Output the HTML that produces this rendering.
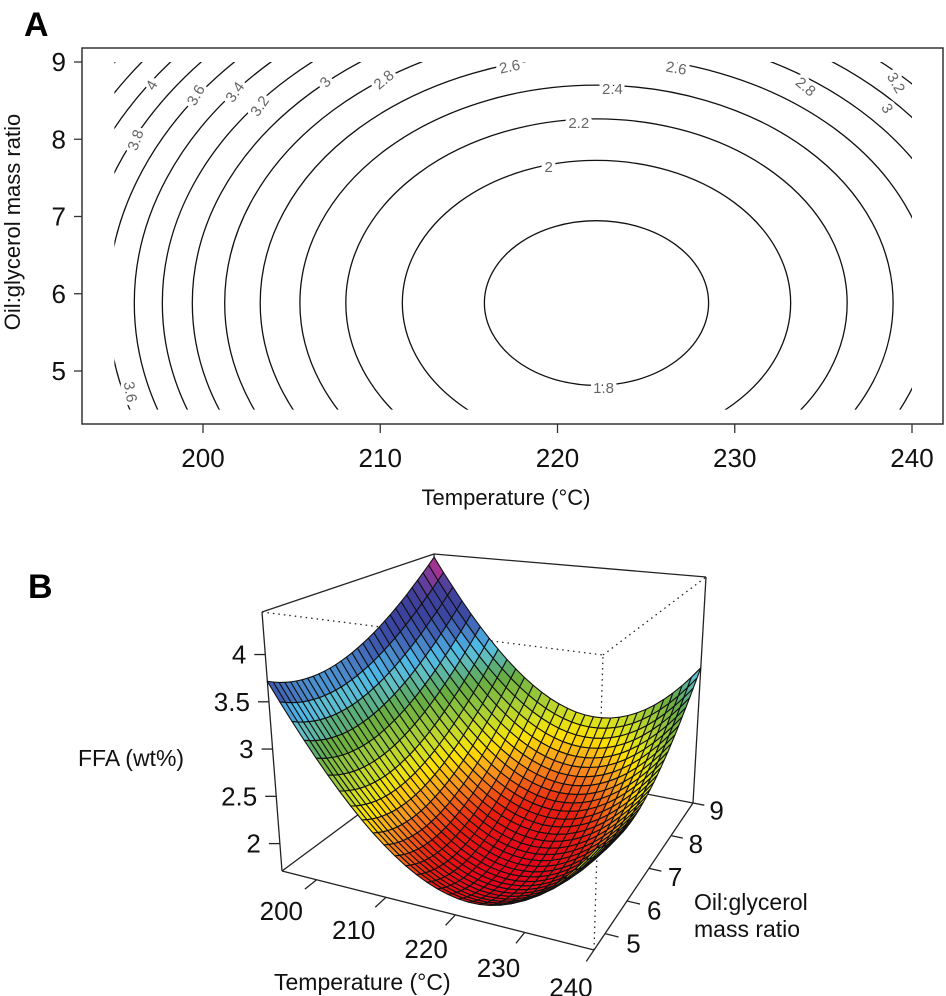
<!DOCTYPE html>
<html><head><meta charset="utf-8"><style>
html,body{margin:0;padding:0;background:#fff}
svg{display:block;font-family:"Liberation Sans",Arial,sans-serif}
</style></head><body>
<svg id="fig" width="946" height="996" viewBox="0 0 946 996">
<g id="panelA"></g>
<g id="panelB"></g>
</svg>
<script>
// ---- model / data ----
const modelMin = [1.70];            // f0
const modelCenter = [222.2, 5.88];  // T0, R0
const modelCurv = [0.0025, 0.088];  // a (T), b (R)
const tempRange = [195, 240];
const ratioRange = [4.5, 9];
const contourLevels = [1.8,2.0,2.2,2.4,2.6,2.8,3.0,3.2,3.4,3.6,3.8,4.0,4.2,4.4];
const contourLabelText = ["4","3.8","3.6","3.4","3.2","3","2.8","2.6","2.6","2.4","2.2","2","1.8","2.8","3","3.2","3.6"];
const contourLabelT = [197.1,196.2,199.6,201.8,203.2,206.9,210.2,217.3,226.7,223.1,221.2,219.5,222.6,234.0,238.6,239.1,195.9];
const contourLabelR = [8.70,7.99,8.57,8.61,8.43,8.74,8.77,8.94,8.92,8.65,8.21,7.64,4.78,8.68,8.40,8.73,4.73];
const contourLabelRot = [-60,-70,-60,-55,-55,-50,-40,-12,10,0,0,0,0,40,60,60,80];
const tempTicks = [200,210,220,230,240];
const ratioTicks = [5,6,7,8,9];
const ffaTicks = [2,2.5,3,3.5,4];
const zRange = [1.71, 4.45];
const colorStopZ = [1.7,1.95,2.1,2.25,2.4,2.55,2.75,2.95,3.1,3.22,3.35,3.48,3.6,3.75,4.0,4.15,4.3,4.45];
const colorStopC = ["#e3001b","#e8200f","#f2661a","#f9a51c","#ffe000","#d6e020","#98c83c","#6aae40","#5aae80","#62bfc6","#4cb8e8","#4a86c8","#3f5eb2","#3b44a0","#40409a","#6a3f9c","#b0308f","#e0177a"];
const gridN = [30, 30];

const NS = "http://www.w3.org/2000/svg";
function mk(tag, attrs, parent){ const e=document.createElementNS(NS,tag); for(const k in attrs) e.setAttribute(k,attrs[k]); if(parent) parent.appendChild(e); return e; }
function f(T,R){ return modelMin[0] + modelCurv[0]*(T-modelCenter[0])**2 + modelCurv[1]*(R-modelCenter[1])**2; }

// ================= Panel A =================
const A = document.getElementById('panelA');
const xA = T => 203 + (T-200)*17.725;
const yA = R => 62 + (9-R)*77.25;
let t;
t = mk('text',{x:24,y:36,'font-size':34,'font-weight':'bold'},A); t.textContent='A';
 
let box = mk('rect',{x:82,y:48,width:861,height:376,fill:'none',stroke:'#333','stroke-width':1.5},A);
 
const defs = mk('defs',{},document.getElementById('fig'));
const cp = mk('clipPath',{id:'clipA'},defs);
mk('rect',{x:xA(tempRange[0]),y:yA(ratioRange[1]),width:xA(tempRange[1])-xA(tempRange[0]),height:yA(ratioRange[0])-yA(ratioRange[1])},cp);
const cg = mk('g',{'clip-path':'url(#clipA)'},A);
 
contourLevels.forEach(L=>{
  const d = L-modelMin[0]; if(d<=0) return;
  const rx = Math.sqrt(d/modelCurv[0])*17.725, ry = Math.sqrt(d/modelCurv[1])*77.25;
  const e = mk('ellipse',{cx:xA(modelCenter[0]),cy:yA(modelCenter[1]),rx:rx,ry:ry,fill:'none',stroke:'#111','stroke-width':1.3},cg);
   
});
contourLabelText.forEach((s,i)=>{
  const x=xA(contourLabelT[i]), y=yA(contourLabelR[i]);
  const tx = mk('text',{x:x,y:y+5,'font-size':15,fill:'#666','text-anchor':'middle',stroke:'#fff','stroke-width':7,'paint-order':'stroke',transform:`rotate(${contourLabelRot[i]} ${x} ${y})`},A);
  tx.textContent=s;
   
});
tempTicks.forEach(v=>{
  mk('line',{x1:xA(v),x2:xA(v),y1:424,y2:433,stroke:'#333','stroke-width':1.3},A);
  const tx = mk('text',{x:xA(v),y:467,'font-size':26,'text-anchor':'middle',fill:'#111'},A); tx.textContent=v;
   
});
ratioTicks.forEach(v=>{
  mk('line',{x1:74,x2:82,y1:yA(v),y2:yA(v),stroke:'#333','stroke-width':1.3},A);
  const tx = mk('text',{x:66,y:yA(v)+9,'font-size':26,'text-anchor':'end',fill:'#111'},A); tx.textContent=v;
   
});
t = mk('text',{x:506,y:505,'font-size':22,'text-anchor':'middle',fill:'#111'},A); t.textContent='Temperature (°C)';
 
t = mk('text',{x:0,y:0,'font-size':22,'text-anchor':'middle',fill:'#111',transform:'translate(20,222) rotate(-90)'},A); t.textContent='Oil:glycerol mass ratio';
 

// ================= Panel B =================
const B = document.getElementById('panelB');
const C = { '000':[282,871],'001':[262,612],'100':[594,950],'101':[603,655],'110':[693,803],'111':[706,577],'010':[440,754],'011':[434,554] };
function P(T,R,z){
  const u=(T-tempRange[0])/(tempRange[1]-tempRange[0]), v=(R-ratioRange[0])/(ratioRange[1]-ratioRange[0]), w=(z-zRange[0])/(zRange[1]-zRange[0]);
  let x=0,y=0;
  for(const a of [0,1]) for(const b of [0,1]) for(const c of [0,1]){
    const k=(a?u:1-u)*(b?v:1-v)*(c?w:1-w); const p=C[''+a+b+c]; x+=k*p[0]; y+=k*p[1];
  }
  return [x,y];
}
function hex2rgb(h){return [parseInt(h.slice(1,3),16),parseInt(h.slice(3,5),16),parseInt(h.slice(5,7),16)];}
function colorFor(z){
  if(z<=colorStopZ[0]) return colorStopC[0];
  for(let i=1;i<colorStopZ.length;i++){
    if(z<=colorStopZ[i]){ const k=(z-colorStopZ[i-1])/(colorStopZ[i]-colorStopZ[i-1]); const a=hex2rgb(colorStopC[i-1]), b=hex2rgb(colorStopC[i]);
      return `rgb(${a.map((q,j)=>Math.round(q+(b[j]-q)*k)).join(',')})`; }
  }
  return colorStopC[colorStopC.length-1];
}
t = mk('text',{x:28,y:598,'font-size':34,'font-weight':'bold'},B); t.textContent='B';
 
const T0=tempRange[0],T1=tempRange[1],R0=ratioRange[0],R1=ratioRange[1],Z0=zRange[0],Z1=zRange[1];
function edge(a,b,dashed,name){
  const l = mk('line',{x1:a[0],y1:a[1],x2:b[0],y2:b[1],stroke:'#222','stroke-width':1.3},B);
  if(dashed) l.setAttribute('stroke-dasharray','1.5 4');
   
}
edge(P(T0,R0,Z0),P(T0,R1,Z0),false,'box-edge');
edge(P(T0,R1,Z0),P(T1,R1,Z0),false,'box-edge');
edge(P(T0,R1,Z0),P(T0,R1,Z1),false,'box-edge');
edge(P(T0,R0,Z1),P(T1,R0,Z1),true,'box-edge-hidden');
edge(P(T1,R0,Z1),P(T1,R1,Z1),true,'box-edge-hidden');
edge(P(T1,R0,Z0),P(T1,R0,Z1),true,'box-edge-hidden');
edge(P(T0,R0,Z1),P(T0,R1,Z1),false,'box-edge');
edge(P(T0,R1,Z1),P(T1,R1,Z1),false,'box-edge');
edge(P(T0,R0,Z0),P(T0,R0,Z1),false,'z-axis-line');
edge(P(T1,R1,Z0),P(T1,R1,Z1),false,'box-edge');
edge(P(T0,R0,Z0),P(T1,R0,Z0),false,'temperature-axis-line');
edge(P(T1,R0,Z0),P(T1,R1,Z0),false,'ratio-axis-line');

// surface
const surf = mk('g',{},B);
 
const facets=[];
const nT=gridN[0], nR=gridN[1];
for(let i=0;i<nT;i++) for(let j=0;j<nR;j++){
  const Ta=T0+(T1-T0)*i/nT, Tb=T0+(T1-T0)*(i+1)/nT, Ra=R0+(R1-R0)*j/nR, Rb=R0+(R1-R0)*(j+1)/nR;
  const zs=[f(Ta,Ra),f(Tb,Ra),f(Tb,Rb),f(Ta,Rb)];
  const pts=[P(Ta,Ra,zs[0]),P(Tb,Ra,zs[1]),P(Tb,Rb,zs[2]),P(Ta,Rb,zs[3])];
  const zm=(zs[0]+zs[1]+zs[2]+zs[3])/4;
  facets.push({pts,zm,depth:(i+0.5)/nT-(j+0.5)/nR});
}
facets.sort((a,b)=>a.depth-b.depth);
facets.forEach(fc=>{
  const p = mk('polygon',{points:fc.pts.map(q=>q[0].toFixed(1)+','+q[1].toFixed(1)).join(' '),fill:colorFor(fc.zm),stroke:'#111','stroke-width':1.1,'stroke-linejoin':'round'},surf);
   
});

// ticks
tempTicks.forEach(v=>{
  const a=P(v,R0,Z0), b=P(v,R0-0.35,Z0), c=P(v,R0-1.05,Z0);
  mk('line',{x1:a[0],y1:a[1],x2:b[0],y2:b[1],stroke:'#222','stroke-width':1.3},B);
  const tx=mk('text',{x:c[0],y:c[1]+12,'font-size':26,'text-anchor':'middle',fill:'#111'},B); tx.textContent=v;
   
});
ratioTicks.forEach(v=>{
  const a=P(T1,v,Z0), b=P(T1+2,v,Z0), c=P(T1+4.2,v,Z0);
  mk('line',{x1:a[0],y1:a[1],x2:b[0],y2:b[1],stroke:'#222','stroke-width':1.3},B);
  const tx=mk('text',{x:c[0],y:c[1]+12,'font-size':26,'text-anchor':'middle',fill:'#111'},B); tx.textContent=v;
   
});
ffaTicks.forEach(v=>{
  const a=P(T0,R0,v);
  mk('line',{x1:a[0]-11,y1:a[1],x2:a[0],y2:a[1],stroke:'#222','stroke-width':1.3},B);
  const tx=mk('text',{x:a[0]-19,y:a[1]+9,'font-size':26,'text-anchor':'end',fill:'#111'},B); tx.textContent=v;
   
});
t = mk('text',{x:78,y:766,'font-size':23,fill:'#111'},B); t.textContent='FFA (wt%)';
 
t = mk('text',{x:274,y:990,'font-size':23,fill:'#111'},B); t.textContent='Temperature (°C)';
 
t = mk('text',{x:694,y:910,'font-size':23,fill:'#111'},B); t.textContent='Oil:glycerol';
 
t = mk('text',{x:694,y:937,'font-size':23,fill:'#111'},B); t.textContent='mass ratio';
 
</script>
</body></html>
